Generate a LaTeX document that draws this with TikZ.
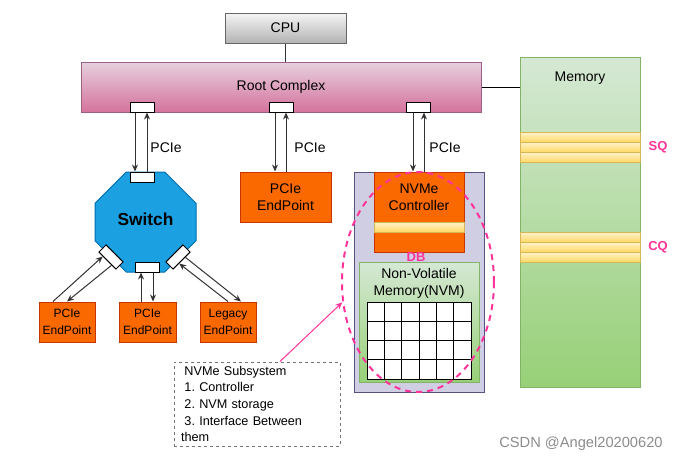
\documentclass[tikz,border=0pt]{standalone}
\usepackage{xcolor}
\usepackage{fontspec}
\setmainfont{Liberation Sans}
\usepackage{tikz}
\usetikzlibrary{arrows.meta}
\usetikzlibrary{shapes.geometric}
\usetikzlibrary{shapes.misc}
\usetikzlibrary{calc}

\definecolor{cpuTop}{RGB}{245,245,245}
\definecolor{cpuBot}{RGB}{179,179,179}
\definecolor{cpuLine}{RGB}{102,102,102}
\definecolor{rcTop}{RGB}{230,208,222}
\definecolor{rcBot}{RGB}{213,115,157}
\definecolor{rcLine}{RGB}{153,97,133}
\definecolor{grTop}{RGB}{213,232,212}
\definecolor{grBot}{RGB}{151,208,119}
\definecolor{grLine}{RGB}{130,179,102}
\definecolor{ylTop}{RGB}{255,242,204}
\definecolor{ylBot}{RGB}{255,217,102}
\definecolor{ylLine}{RGB}{214,182,86}
\definecolor{swFill}{RGB}{27,161,226}
\definecolor{swLine}{RGB}{0,110,175}
\definecolor{orFill}{RGB}{250,104,0}
\definecolor{orLine}{RGB}{199,53,0}
\definecolor{lvFill}{RGB}{208,206,226}
\definecolor{lvLine}{RGB}{86,81,126}
\definecolor{dbPink}{RGB}{255,51,153}

\begin{document}
\begin{tikzpicture}[x=0.75pt,y=0.75pt,yscale=-1,
  box/.style={draw, inner sep=0pt, line width=0.75pt, align=center, font=\fontsize{10.5}{12.75}\selectfont},
  port/.style={draw=black, fill=white, line width=0.75pt, inner sep=0pt, minimum width=18pt, minimum height=7.5pt},
  endpt/.style={box, draw=orLine, fill=orFill, minimum width=42pt, minimum height=30pt, font=\fontsize{9}{12.5}\selectfont},
  stripe/.style={draw=ylLine, top color=ylTop, bottom color=ylBot, line width=0.75pt, inner sep=0pt, minimum width=90pt, minimum height=7.5pt},
  cell/.style={draw=black, fill=white, line width=0.75pt, inner sep=0pt, minimum width=13pt, minimum height=14.4375pt},
  lnk/.style={-{Stealth[length=5.25pt,width=4.5pt]}, line width=0.75pt, draw=black!80},
  tag/.style={text=dbPink, inner sep=0pt, font=\fontsize{9.75}{12}\selectfont\bfseries},
  txt/.style={inner sep=0pt, align=center, font=\fontsize{10.5}{12.75}\selectfont}
]
\useasboundingbox (0,0) rectangle (688,464);

%Shape: Rectangle [CPU]
\node[box, draw=cpuLine, top color=cpuTop, bottom color=cpuBot, minimum width=90.75pt, minimum height=22.5pt] (cpu) at (285.5,28) {CPU};
%Shape: Rectangle [Root Complex]
\node[box, draw=rcLine, top color=rcTop, bottom color=rcBot, minimum width=300pt, minimum height=37.5pt] (root) at (281,87) {Root Complex};
%Shape: Rectangle [Memory]
\node[box, draw=grLine, top color=grTop, bottom color=grBot, minimum width=90pt, minimum height=247.5pt] (mem) at (580,222) {};
% Text Node
\node[txt] (memtxt) at (580,78) {Memory};
%Shape: queue entries
\foreach \k/\y in {1/137,2/147,3/157} \node[stripe] (sq\k) at (580,\y) {};
\foreach \k/\y in {1/237,2/247,3/257} \node[stripe] (cq\k) at (580,\y) {};
% Text Node
\node[tag] (sqtxt) at (658,147) {SQ};
% Text Node
\node[tag] (cqtxt) at (658,247) {CQ};

\draw[line width=0.75pt, draw=black!80] (cpu.south) -- (cpu.south |- root.north);
\draw[line width=0.75pt] (root.east) -- (root.east -| mem.west);

%Shape: root ports
\node[port] (rp1) at (142,107) {};
\node[port] (rp2) at (281.5,107) {};
\node[port] (rp3) at (418.5,107) {};

%Shape: Octagon [Switch]
\node[chamfered rectangle, chamfered rectangle xsep=16.5pt, chamfered rectangle ysep=16.5pt, draw=swLine, fill=swFill, line width=0.75pt, minimum width=75.75pt, minimum height=75pt, inner sep=0pt, font=\fontsize{13}{15}\selectfont\bfseries] (sw) at (145.5,222) {\raisebox{4.5pt}{Switch}};
\node[port] (sp0) at (142.5,177) {};
\node[port, rotate=-45] (sp1) at (111,257) {};
\node[port] (sp2) at (147.5,267) {};
\node[port, rotate=45] (sp3) at (178,257) {};

%Shape: end points
\node[endpt] (ep1) at (67,322) {PCIe\\EndPoint};
\node[endpt, minimum width=42.75pt] (ep2) at (147.5,322) {PCIe\\EndPoint};
\node[endpt] (ep3) at (228,322) {Legacy\\EndPoint};
\node[endpt, minimum width=68.25pt, minimum height=37.5pt, font=\fontsize{10.5}{12.75}\selectfont] (ep) at (285.5,197) {PCIe\\EndPoint};

%Shape: Rectangle [NVMe subsystem]
\node[box, draw=lvLine, fill=lvFill, minimum width=97.5pt, minimum height=165pt] (sub) at (419,282) {};
\node[box, draw=orLine, fill=orFill, minimum width=67.5pt, minimum height=60pt] (ctrl) at (419,212) {};
% Text Node
\node[txt] (ctrltxt) at (419,197.5) {NVMe\\Controller};
\node[stripe, minimum width=67.5pt] (dbuf) at (419,227) {};
% Text Node
\node[tag] (dbtxt) at (416,257) {DB};
\node[box, draw=grLine, top color=grTop, bottom color=grBot, minimum width=90pt, minimum height=90pt] (nvm) at (419,322) {};
% Text Node
\node[txt] (nvmtxt) at (419,283) {Non-Volatile\\Memory(NVM)};
%Shape: Grid
\foreach \i in {0,...,5}
  \foreach \j in {0,...,3}
    \node[cell] (c\i\j) at ({367+17.333*(\i+0.5)},{302+19.25*(\j+0.5)}) {};

%Shape: Ellipse
\node[ellipse, draw=dbPink, dash pattern=on 4.5pt off 3.75pt, line width=1.5pt, minimum width=114pt, minimum height=165pt, inner sep=0pt] (ell) at (418,282) {};

% Text Node
\node[draw=black!55, dash pattern=on 2.25pt off 2.25pt, line width=0.75pt, text width=114pt, inner xsep=5.25pt, inner ysep=1pt, minimum height=63pt, align=left, font=\fontsize{9.5}{12.5}\selectfont\frenchspacing] (note) at (257,404)
  {\hspace*{2.6pt}NVMe Subsystem\\\hspace*{2.6pt}1. Controller\\\hspace*{2.6pt}2. NVM storage\\\hspace*{2.6pt}3. Interface Between\\them};
\draw[lnk, draw=dbPink] ([xshift=17.25pt]note.north) -- (ell.195);

% Text Node
\node[txt] (pl1) at (166,148) {PCIe};
% Text Node
\node[txt] (pl2) at (310,148) {PCIe};
% Text Node
\node[txt] (pl3) at (445,148) {PCIe};

%Links
\draw[lnk] ([xshift=-5.25pt]rp1.south) -- ([xshift=-5.25pt]rp1.south |- sp0.north);
\draw[lnk] ([xshift=3.75pt]rp1.south |- sp0.north) -- ([xshift=3.75pt]rp1.south);
\draw[lnk] ([xshift=-4.875pt]rp2.south) -- ([xshift=-4.875pt]rp2.south |- ep.north);
\draw[lnk] ([xshift=3.375pt]rp2.south |- ep.north) -- ([xshift=3.375pt]rp2.south);
\draw[lnk] ([xshift=-4.125pt]rp3.south) -- ([xshift=-4.125pt]rp3.south |- ctrl.north);
\draw[lnk] ([xshift=4.125pt]rp3.south |- ctrl.north) -- ([xshift=4.125pt]rp3.south);
\draw[lnk] ([xshift=-4.875pt]ep2.north) -- ([xshift=-4.875pt]ep2.north |- sp2.south);
\draw[lnk] ([xshift=4.125pt]ep2.north |- sp2.south) -- ([xshift=4.125pt]ep2.north);
\draw[lnk] ([xshift=-10.5pt]ep1.north) -- ($(sp1.south)!0.5!(sp1.south west)$);
\draw[lnk] ($(sp1.south)!0.5!(sp1.south east)$) -- (ep1.north);
\draw[lnk] (ep3.north) -- ($(sp3.south)!0.3!(sp3.south west)$);
\draw[lnk] ($(sp3.south)!0.4!(sp3.south east)$) -- ([xshift=9.75pt]ep3.north);

% Text Node
\node[txt, text=black!45, font=\fontsize{11}{13}\selectfont] (wm) at (581,444) {CSDN @Angel20200620};

\end{tikzpicture}
\end{document}
